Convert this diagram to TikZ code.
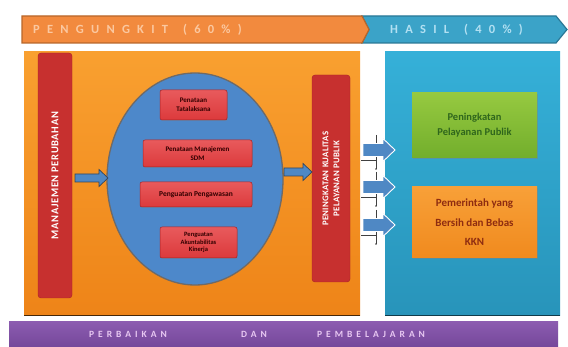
\documentclass[tikz,border=0pt]{standalone}
\usepackage{fontspec}
\setmainfont{Carlito}
\usetikzlibrary{shapes.geometric,shadows}
\definecolor{banO}{HTML}{F28A3E}
\definecolor{banOd}{HTML}{B8662A}
\definecolor{banB}{HTML}{3BA3C8}
\definecolor{banBd}{HTML}{2A7896}
\definecolor{peach}{HTML}{FBC8A0}
\definecolor{lblue}{HTML}{B2E0F2}
\definecolor{orT}{HTML}{F9A030}
\definecolor{orB}{HTML}{EE8418}
\definecolor{blT}{HTML}{35B0D8}
\definecolor{blB}{HTML}{2894BA}
\definecolor{purT}{HTML}{8C5CB0}
\definecolor{purB}{HTML}{74479A}
\definecolor{lilac}{HTML}{E8C8F2}
\definecolor{redbarC}{HTML}{C7302F}
\definecolor{redbox}{HTML}{DC3A3C}
\definecolor{redboxT}{HTML}{E85A5C}
\definecolor{redboxD}{HTML}{A82226}
\definecolor{ellF}{HTML}{4D88CA}
\definecolor{ellD}{HTML}{6E6A68}
\definecolor{arrF}{HTML}{4F88C4}
\definecolor{arrD}{HTML}{34465C}
\definecolor{grT}{HTML}{96C940}
\definecolor{grB}{HTML}{72AE2C}
\definecolor{grTx}{HTML}{2F661C}
\definecolor{obT}{HTML}{F8A038}
\definecolor{obB}{HTML}{F08A1E}
\definecolor{obTx}{HTML}{8E2C10}
% block arrow: style, tail x, tip x, y, shaft half, head half, head length
\newcommand\myblockarrow[7]{%
  \filldraw[#1] (#2,#4-#5) -- (#3-#7,#4-#5) -- (#3-#7,#4-#6) -- (#3,#4) -- (#3-#7,#4+#6) -- (#3-#7,#4+#5) -- (#2,#4+#5) -- cycle;}
\tikzset{
  bantext/.style={inner sep=0pt, font=\fontsize{12.5}{12.5}\selectfont\bfseries\addfontfeatures{LetterSpace=58}},
  bottext/.style={inner sep=0pt, text=lilac, font=\fontsize{9.5}{10}\selectfont\bfseries\addfontfeatures{LetterSpace=42}},
  redbar/.style={rounded corners=3pt, fill=redbarC, draw=redboxD, line width=0.4pt, text=white, inner sep=0pt, align=center,
    font=\fontsize{10.5}{12}\selectfont\bfseries\addfontfeatures{LetterSpace=6}},
  redboxst/.style={rounded corners=2pt, top color=redboxT, bottom color=redbox, draw=redboxD, line width=0.5pt,
    drop shadow={opacity=0.35, shadow xshift=0.8pt, shadow yshift=-1pt},
    inner sep=0pt, align=center, text=black!80!red, font=\fontsize{7}{8.5}\selectfont\bfseries},
  blockarr/.style={fill=arrF, draw=arrD, line width=0.7pt},
  outarr/.style={fill=arrF, draw=white, line width=0.9pt},
  resbox/.style={inner sep=0pt, align=center, drop shadow={opacity=0.45, shadow xshift=1pt, shadow yshift=-1.5pt}},
  thinln/.style={draw=black!75, line width=0.45pt}
}
\begin{document}
\begin{tikzpicture}[x=1pt,y=-1pt]
\useasboundingbox (0,0) rectangle (568,347);
\fill[white] (0,0) rectangle (568,347);
% banner
\filldraw[fill=banB, draw=banBd, line width=1.2pt] (362,16) -- (556,16) -- (567,29.5) -- (556,43) -- (362,43) -- (369,29.5) -- cycle;
\filldraw[fill=banO, draw=banOd, line width=1.2pt] (22,16) -- (362,16) -- (369,29.5) -- (362,43) -- (22,43) -- cycle;
\node[bantext, text=peach, anchor=west] (pen) at (33,29.5) {PENGUNGKIT\hspace{1.2em}(60\%)};
\node[bantext, text=lblue, anchor=west] (has) at (390,29.5) {HASIL\hspace{1.2em}(40\%)};
% main panels
\shade[top color=orT, bottom color=orB] (24,52) rectangle (360,316);
\draw[draw=black!70!orB, line width=1.5pt] (24,315.5) -- (360,315.5);
\shade[top color=blT, bottom color=blB] (385,52) rectangle (560,316);
\draw[draw=black!60!blB, line width=1.5pt] (385,315.5) -- (560,315.5);
% bottom bar
\shade[top color=purT, bottom color=purB] (9,322) rectangle (558,347);
\node[bottext, anchor=west] (perb) at (89,334.5) {PERBAIKAN};
\node[bottext, anchor=west] (dan) at (241,334.5) {DAN};
\node[bottext, anchor=west] (pemb) at (317,334.5) {PEMBELAJARAN};
% left red bar
\node[redbar, rotate=90, minimum width=245pt, minimum height=34pt] (mp) at (55,175.5) {MANAJEMEN PERUBAHAN};
% ellipse
\node[ellipse, fill=ellF, draw=ellD, line width=1.3pt, minimum width=176pt, minimum height=212pt, inner sep=0pt] (ell) at (195,179) {};
% red boxes
\node[redboxst, minimum width=67pt, minimum height=30pt] (b1) at (193.5,105) {Penataan\\Tatalaksana};
\node[redboxst, minimum width=109pt, minimum height=27pt] (b2) at (197.5,153.5) {Penataan Manajemen\\SDM};
\node[redboxst, minimum width=112pt, minimum height=25pt, font=\fontsize{7.5}{8.5}\selectfont\bfseries] (b3) at (196,194.5) {Penguatan Pengawasan};
\node[redboxst, minimum width=77pt, minimum height=31pt, font=\fontsize{6.5}{7.8}\selectfont\bfseries] (b4) at (198.5,242.5) {Penguatan\\Akuntabilitas\\Kinerja};
% right red bar
\node[redbar, rotate=90, minimum width=207pt, minimum height=38pt, font=\fontsize{8.8}{11}\selectfont\bfseries\addfontfeatures{LetterSpace=3}] (pk) at (331,178.5) {PENINGKATAN KUALITAS\\PELAYANAN PUBLIK};
% arrows between nodes
\myblockarrow{blockarr}{75}{108}{178}{4}{8.5}{9}
\myblockarrow{blockarr}{284}{312}{172}{4}{8.5}{9}
% thin connector marks
\foreach \c in {150,187,225}{
  \draw[thinln] (376,\c-15) -- (376,\c+19);
  \draw[thinln] (361,\c+10) -- (376,\c+10);
  \fill[black!75] (376,\c+19) circle (0.9pt);
}
\foreach \c in {150,187,225}{
  \myblockarrow{outarr}{363}{395}{\c}{6.5}{11.5}{12}
}
% result boxes
\node[resbox, top color=grT, bottom color=grB, minimum width=125pt, minimum height=65pt, text=grTx,
  font=\fontsize{10.5}{15}\selectfont\bfseries] (g1) at (474.5,125.5) {Peningkatan\\Pelayanan Publik};
\node[resbox, top color=obT, bottom color=obB, minimum width=125pt, minimum height=71pt, text=obTx,
  font=\fontsize{11}{19.5}\selectfont\bfseries] (g2) at (474.5,222.5) {Pemerintah yang\\Bersih dan Bebas\\KKN};
\end{tikzpicture}
\end{document}
